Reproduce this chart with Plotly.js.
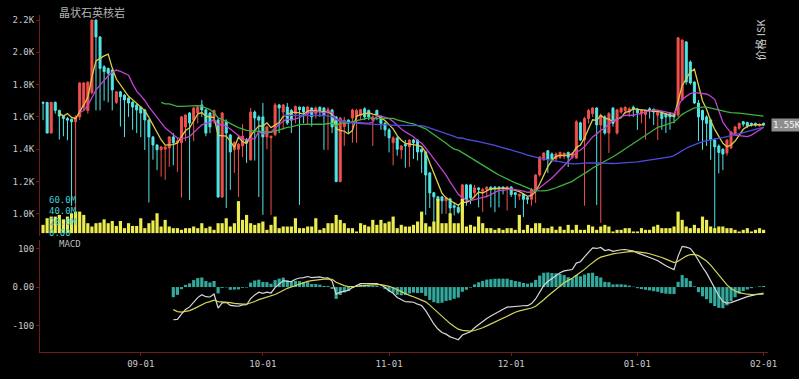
<!DOCTYPE html>
<html>
<head>
<meta charset="utf-8">
<script src="https://cdn.plot.ly/plotly-3.0.1.min.js"></script>
<style>
html,body{margin:0;padding:0;background:#000;}
#chart{width:799px;height:379px;}
</style>
</head>
<body>
<div id="chart"></div>
<script>
// ---------- data ----------
const startDate = '2023-08-08';
const tickDates = ['2023-09-01','2023-10-01','2023-11-01','2023-12-01','2024-01-01','2024-02-01'];
const tickLabels = ['09-01','10-01','11-01','12-01','01-01','02-01'];
const priceTicks = [1000,1200,1400,1600,1800,2000,2200];
const priceTickText = ['1.0K','1.2K','1.4K','1.6K','1.8K','2.0K','2.2K'];
const volTicks = [0,20e6,40e6,60e6];
const volTickText = ['0.00','20.0M','40.0M','60.0M'];
const macdTicks = [-100,0,100];
const macdTickText = ['-100','0.00','100'];

const openP = [
1690,1690,1500,1690,1640,1605,1590,1585,1570,1600,
1660,1640,1750,2200,2095,1910,1900,1890,1690,1755,
1735,1717,1692,1674,1661,1643,1581,1476,1426,1396,
1400,1408,1476,1440,1440,1538,1624,1580,1624,1674,
1643,1624,1600,1581,1104,1570,1488,1396,1400,1420,
1457,1334,1630,1600,1600,1476,1470,1490,1674,1630,
1661,1640,1620,1660,1660,1620,1655,1620,1660,1655,
1630,1643,1600,1200,1540,1580,1593,1600,1610,1650,
1640,1580,1640,1600,1560,1520,1440,1470,1396,1430,
1414,1457,1457,1400,1383,1253,1130,1105,1105,1080,
1092,1050,1040,1005,1179,1179,1130,1160,1140,1150,
1165,1165,1165,1165,1155,1166,1130,1110,1120,1100,
1090,1148,1240,1334,1390,1370,1340,1350,1355,1380,
1350,1345,1563,1457,1590,1620,1655,1550,1600,1500,
1655,1500,1630,1640,1630,1660,1650,1620,1615,1650,
1648,1610,1630,1620,1625,1620,1612,1705,2064,1940,
1816,1686,1640,1600,1581,1457,1420,1400,1377,1408,
1488,1530,1570,1565,1560,1560,1545,1560];
const highP = [
1695,1690,1690,1695,1645,1610,1600,1590,1610,1815,
1815,1820,2200,2200,2100,1920,1905,1895,1760,1760,
1740,1720,1695,1680,1665,1650,1585,1480,1430,1420,
1420,1480,1500,1470,1605,1615,1630,1660,1665,1705,
1650,1630,1645,1590,1630,1585,1495,1450,1440,1555,
1470,1655,1640,1610,1686,1545,1485,1686,1680,1680,
1686,1650,1670,1665,1665,1668,1660,1665,1665,1660,
1660,1650,1605,1600,1600,1585,1650,1650,1650,1660,
1645,1610,1645,1610,1570,1530,1480,1480,1425,1457,
1460,1465,1460,1405,1390,1260,1135,1110,1110,1105,
1100,1070,1060,1185,1185,1185,1179,1165,1160,1170,
1170,1170,1170,1170,1170,1170,1135,1125,1125,1105,
1160,1245,1355,1380,1395,1380,1380,1385,1380,1385,
1380,1580,1570,1600,1650,1660,1660,1620,1610,1630,
1660,1650,1660,1665,1660,1670,1655,1645,1645,1660,
1650,1640,1640,1625,1630,1625,2095,2080,2070,1950,
1820,1705,1645,1610,1590,1465,1430,1405,1460,1510,
1545,1565,1575,1570,1565,1565,1560,1565];
const lowP = [
1580,1500,1500,1620,1460,1480,1455,1050,880,1580,
1640,1620,1740,1640,1640,1700,1690,1640,1680,1540,
1475,1600,1520,1500,1475,1395,1070,1335,1270,1230,
1210,1290,1300,1260,1100,1450,1085,1450,1560,1600,
1480,1500,1560,1100,1100,1036,1148,1253,1104,1350,
1315,1330,1330,1104,993,1400,993,1480,1500,1520,
1550,1500,1560,1055,1560,1550,1540,1590,1600,1396,
1396,1500,1195,1195,1420,1500,1440,1440,1580,1580,
1580,1420,1580,1520,1480,1380,1300,1360,1340,1285,
1290,1340,1330,1253,993,1036,920,1036,1000,1000,
980,990,1000,1000,1050,1060,1100,1040,1012,1100,
1040,1010,1040,1120,1020,1104,1036,1086,980,1060,
1050,1067,1230,1330,1253,1320,1320,1340,1340,1290,
1340,1340,1450,1050,1560,1600,1055,944,1490,1377,
1540,1490,1620,1620,1600,1600,1520,1560,1460,1590,
1550,1457,1520,1500,1520,1560,1600,1700,1800,1800,
1680,1450,1396,1420,1334,880,1250,1270,1360,1400,
1488,1520,1540,1530,1540,1540,1540,1545];
const closeP = [
1685,1500,1690,1640,1605,1590,1580,1570,1600,1810,
1810,1815,2200,2095,1900,1880,1870,1767,1755,1725,
1705,1686,1661,1643,1624,1581,1476,1426,1396,1414,
1414,1476,1440,1450,1600,1612,1562,1655,1661,1643,
1500,1538,1640,1104,1624,1500,1383,1440,1430,1480,
1440,1630,1593,1580,1476,1538,1480,1674,1655,1674,
1562,1580,1665,1645,1630,1661,1600,1655,1640,1610,
1645,1538,1200,1593,1580,1565,1643,1640,1645,1600,
1600,1600,1610,1560,1520,1470,1470,1400,1420,1420,
1457,1440,1383,1383,1240,1129,1105,1080,1080,1100,
1036,1040,1010,1179,1086,1098,1160,1150,1150,1165,
1150,1160,1158,1160,1166,1120,1120,1120,1090,1090,
1150,1240,1352,1377,1340,1340,1370,1380,1375,1350,
1375,1570,1457,1590,1640,1655,1550,1610,1500,1620,
1560,1643,1655,1660,1650,1645,1625,1640,1640,1640,
1630,1630,1590,1600,1600,1600,2090,2076,1816,1810,
1686,1600,1581,1560,1457,1414,1380,1370,1457,1507,
1538,1560,1555,1545,1550,1550,1555,1550];
const volumeM = [
15,27,30,30,33,25,30,36,39,39,
33,18,12,18,19,25,18,22,13,22,
9,18,13,13,27,9,18,23,36,12,
24,12,9,9,6,9,9,12,9,18,
9,12,6,18,18,27,12,18,58,24,
33,18,15,18,21,6,15,30,9,12,
12,12,27,9,9,12,12,27,6,9,
18,18,33,24,18,9,9,3,18,15,
12,24,15,24,18,21,30,9,15,12,
12,15,21,39,18,12,21,62,18,18,
36,18,18,62,12,15,12,30,18,9,
9,6,9,6,9,9,6,33,6,15,
9,18,18,9,9,12,6,12,6,15,
6,15,6,6,15,12,6,12,15,12,
3,6,6,9,9,3,3,9,6,6,
12,15,9,9,9,12,39,24,12,9,
15,9,30,24,12,9,12,12,9,9,
6,3,6,9,3,6,9,6];

// ---------- derived ----------
const N = closeP.length;
const dates = [];
for (let i = 0; i < N; i++) {
  const d = new Date(Date.UTC(2023, 7, 8 + i));
  dates.push(d.toISOString().slice(0, 10));
}
const volume = volumeM.map(v => v * 1e6);
function sma(arr, n) {
  return arr.map((_, i) => {
    if (i < n - 1) return null;
    let s = 0; for (let k = i - n + 1; k <= i; k++) s += arr[k];
    return s / n;
  });
}
function ema(arr, n) {
  const a = 2 / (n + 1); const out = [];
  arr.forEach((v, i) => out.push(i === 0 ? v : a * v + (1 - a) * out[i - 1]));
  return out;
}
const ma5 = sma(closeP, 5), ma10 = sma(closeP, 10), ma30 = sma(closeP, 30), ma60 = sma(closeP, 60);
const e12 = ema(closeP, 12), e26 = ema(closeP, 26);
const difRaw = e12.map((v, i) => v - e26[i]);
const deaRaw = ema(difRaw, 9);
const macdStart = 32;
const dif = difRaw.map((v, i) => i < macdStart ? null : v);
const dea = deaRaw.map((v, i) => i < macdStart ? null : v);
const hist = difRaw.map((v, i) => i < macdStart ? null : (v - deaRaw[i]));

// ---------- chart ----------
const RED = '#f0504c', CYAN = '#52e6e6', AXIS = '#6e1c1c', TXT = '#c8c8c8';
const mono = 'DejaVu Sans Mono, monospace';

const traces = [
  {type:'bar', x:dates, y:volume, xaxis:'x', yaxis:'y3', marker:{color:'#ecec50'}, hoverinfo:'skip'},
  {type:'candlestick', x:dates, open:openP, high:highP, low:lowP, close:closeP, xaxis:'x', yaxis:'y',
   increasing:{line:{color:RED, width:1}, fillcolor:RED},
   decreasing:{line:{color:CYAN, width:1}, fillcolor:CYAN}, whiskerwidth:0, hoverinfo:'skip'},
  {type:'scatter', mode:'lines', x:dates, y:ma5, xaxis:'x', yaxis:'y', line:{color:'#dccb48', width:1.3}, hoverinfo:'skip'},
  {type:'scatter', mode:'lines', x:dates, y:ma10, xaxis:'x', yaxis:'y', line:{color:'#c044d0', width:1.3}, hoverinfo:'skip'},
  {type:'scatter', mode:'lines', x:dates, y:ma30, xaxis:'x', yaxis:'y', line:{color:'#3fb23f', width:1.3}, hoverinfo:'skip'},
  {type:'scatter', mode:'lines', x:dates, y:ma60, xaxis:'x', yaxis:'y', line:{color:'#4d4ddc', width:1.3}, hoverinfo:'skip'},
  {type:'bar', x:dates, y:hist, xaxis:'x', yaxis:'y2', marker:{color:'#33a89c'}, hoverinfo:'skip'},
  {type:'scatter', mode:'lines', x:dates, y:dif, xaxis:'x', yaxis:'y2', line:{color:'#d8d8d8', width:1.2}, hoverinfo:'skip'},
  {type:'scatter', mode:'lines', x:dates, y:dea, xaxis:'x', yaxis:'y2', line:{color:'#d4d65a', width:1.2}, hoverinfo:'skip'}
];

const axisCommon = {showgrid:false, zeroline:false, showline:true, linecolor:AXIS, linewidth:1,
  ticks:'outside', ticklen:3, tickcolor:AXIS, tickfont:{family:mono, size:9, color:TXT}, fixedrange:true};

const volLabelAnn = volTicks.map((v, k) => ({xref:'paper', yref:'y3', x:0.0096, y:v, xanchor:'left', yanchor:'middle',
  showarrow:false, text:volTickText[k], font:{family:mono, size:9, color:'#3fcfcf'}}));

const layout = {
  width:799, height:379,
  paper_bgcolor:'#000', plot_bgcolor:'rgba(0,0,0,0)',
  margin:{l:40, r:31, t:15, b:27},
  showlegend:false, bargap:0.22,
  xaxis: Object.assign({}, axisCommon, {type:'date', anchor:'y2', range:['2023-08-07 06:00','2024-02-02 02:00'],
    tickvals:tickDates, ticktext:tickLabels, rangeslider:{visible:false}}),
  yaxis: Object.assign({}, axisCommon, {domain:[0.344,1], range:[862,2231], anchor:'x', side:'left',
    tickvals:priceTicks, ticktext:priceTickText}),
  yaxis4: Object.assign({}, axisCommon, {overlaying:'y', side:'right', range:[862,2231], anchor:'x',
    tickvals:priceTicks, ticktext:priceTickText}),
  yaxis3: {domain:[0.332,0.4807], range:[-12.7e6,78.2e6], anchor:'x', side:'left', showgrid:false, zeroline:false,
    showline:false, ticks:'', showticklabels:false, fixedrange:true},
  yaxis2: Object.assign({}, axisCommon, {domain:[0,0.332], range:[-168.8,122], anchor:'x', side:'left',
    tickvals:macdTicks, ticktext:macdTickText}),
  yaxis5: Object.assign({}, axisCommon, {overlaying:'y2', side:'right', range:[-168.8,122], anchor:'x',
    tickvals:macdTicks, ticktext:macdTickText}),
  annotations:[
    {xref:'paper', yref:'paper', x:0.023, y:1.009, xanchor:'left', yanchor:'middle', showarrow:false,
     text:'晶状石英核岩', font:{family:'Noto Sans CJK SC', size:11, color:'#b4b4b4'}},
    {xref:'paper', yref:'paper', x:0.023, y:0.320, xanchor:'left', yanchor:'middle', showarrow:false,
     text:'MACD', font:{family:mono, size:9, color:'#bdbdbd'}},
    {xref:'paper', yref:'paper', x:1, y:0.995, xanchor:'right', yanchor:'top', xshift:2, showarrow:false, textangle:-90,
     text:'价格 ISK', font:{family:'Noto Sans CJK SC', size:11, color:'#c8c8c8'}},
    {xref:'paper', yref:'y', x:1, y:closeP[N-1], xanchor:'left', yanchor:'middle', xshift:3, showarrow:false,
     text:(closeP[N-1]/1000).toFixed(2)+'K', bgcolor:'#8e8e8e', borderpad:1,
     font:{family:mono, size:9, color:'#f4f4f4'}}
  ].concat(volLabelAnn)
};

Plotly.newPlot('chart', traces, layout, {staticPlot:true, displayModeBar:false});
</script>
</body>
</html>
